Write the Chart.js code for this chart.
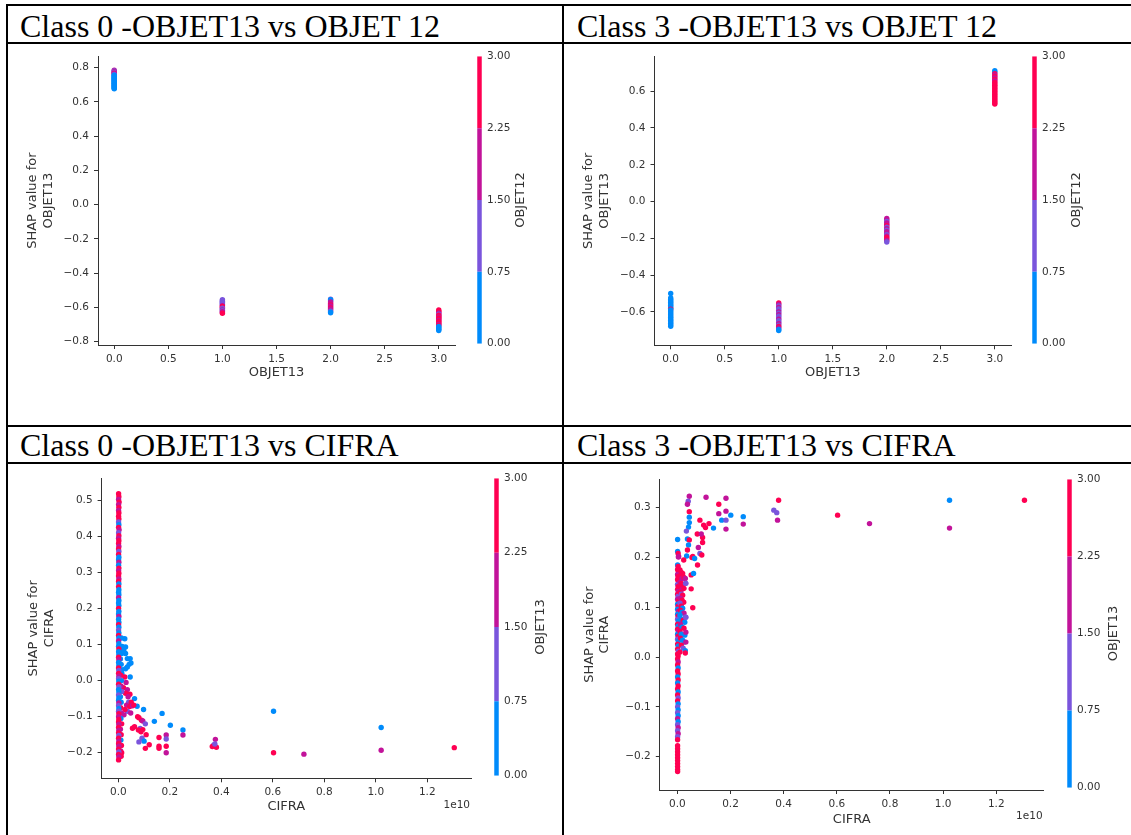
<!DOCTYPE html>
<html>
<head>
<meta charset="utf-8">
<script src="https://cdn.jsdelivr.net/npm/chart.js@4.4.1/dist/chart.umd.min.js"></script>
<style>
  body { margin: 0; background: #fff; }
  #page { position: relative; width: 1131px; height: 835px; overflow: hidden; background: #fff; }
  .line { position: absolute; background: #000; }
  .title { position: absolute; font-family: "Liberation Serif", serif; font-size: 32px; line-height: 1; color: #000; white-space: nowrap; }
  canvas { position: absolute; }
</style>
</head>
<body>
<div id="page">
  <div class="line" style="left:6px;top:4px;width:1125px;height:2px"></div>
  <div class="line" style="left:6px;top:42px;width:1125px;height:2px"></div>
  <div class="line" style="left:6px;top:425px;width:1125px;height:2px"></div>
  <div class="line" style="left:6px;top:462px;width:1125px;height:2px"></div>
  <div class="line" style="left:6px;top:4px;width:2px;height:831px"></div>
  <div class="line" style="left:562px;top:4px;width:2px;height:831px"></div>
  <div class="title" style="left:20px;top:10px">Class 0 -OBJET13 vs OBJET 12</div>
  <div class="title" style="left:577px;top:10px">Class 3 -OBJET13 vs OBJET 12</div>
  <div class="title" style="left:20px;top:429px">Class 0 -OBJET13 vs CIFRA</div>
  <div class="title" style="left:577px;top:429px">Class 3 -OBJET13 vs CIFRA</div>
</div>
<script>
// colour of each OBJET value (0..3), as on the colorbars
const colorbarColors = ['#008bfb', '#7a55dc', '#c2139a', '#ff0052'];
const colorbarTicks = [0, 0.75, 1.5, 2.25, 3];

const objetTicks = [0, 0.5, 1, 1.5, 2, 2.5, 3];
const cifraTicks = [0, 2e9, 4e9, 6e9, 8e9, 1e10, 1.2e10];
const class0ObjetShapTicks = [-0.8, -0.6, -0.4, -0.2, 0, 0.2, 0.4, 0.6, 0.8];
const class3ObjetShapTicks = [-0.6, -0.4, -0.2, 0, 0.2, 0.4, 0.6];
const class0CifraShapTicks = [-0.2, -0.1, 0, 0.1, 0.2, 0.3, 0.4, 0.5];
const class3CifraShapTicks = [-0.2, -0.1, 0, 0.1, 0.2, 0.3];

// [feature value, SHAP value, colouring feature value]
const class0ObjetPoints = [
  [0,0.785,2],[0,0.780,1],[0,0.776,2],[0,0.772,1],[0,0.768,3],[0,0.764,2],[0,0.760,1],[0,0.756,0],
  [0,0.752,0],[0,0.748,0],[0,0.744,0],[0,0.740,0],[0,0.736,0],[0,0.732,0],[0,0.728,0],[0,0.724,0],
  [0,0.720,0],[0,0.716,0],[0,0.712,0],[0,0.708,0],[0,0.704,0],[0,0.700,0],[0,0.696,0],[0,0.692,0],
  [0,0.688,0],[0,0.684,0],[0,0.680,0],[0,0.676,0],
  [1,-0.555,1],[1,-0.560,1],[1,-0.565,1],[1,-0.570,1],[1,-0.575,1],[1,-0.580,1],[1,-0.585,1],[1,-0.590,2],
  [1,-0.595,3],[1,-0.600,3],[1,-0.605,1],[1,-0.610,1],[1,-0.615,2],[1,-0.620,1],[1,-0.625,2],[1,-0.630,2],[1,-0.635,3],
  [2,-0.552,1],[2,-0.556,0],[2,-0.562,0],[2,-0.568,2],[2,-0.574,2],[2,-0.580,2],[2,-0.586,3],[2,-0.592,2],
  [2,-0.598,2],[2,-0.604,3],[2,-0.610,2],[2,-0.616,2],[2,-0.622,1],[2,-0.628,0],[2,-0.632,0],
  [3,-0.615,3],[3,-0.622,3],[3,-0.628,3],[3,-0.634,2],[3,-0.640,1],[3,-0.646,3],[3,-0.652,3],[3,-0.658,2],
  [3,-0.664,3],[3,-0.670,3],[3,-0.676,2],[3,-0.682,3],[3,-0.688,3],[3,-0.694,3],[3,-0.700,2],[3,-0.706,3],
  [3,-0.712,0],[3,-0.718,0],[3,-0.724,0],[3,-0.730,0],[3,-0.735,0]
];

const class3ObjetPoints = [
  [0,-0.500,0],[0,-0.524,0],[0,-0.532,0],[0,-0.540,0],[0,-0.548,0],[0,-0.556,0],[0,-0.564,0],[0,-0.572,0],
  [0,-0.580,0],[0,-0.585,3],[0,-0.590,0],[0,-0.598,0],[0,-0.606,0],[0,-0.614,0],[0,-0.622,0],[0,-0.630,0],
  [0,-0.638,0],[0,-0.646,0],[0,-0.654,0],[0,-0.662,0],[0,-0.670,0],[0,-0.678,0],
  [1,-0.552,3],[1,-0.560,2],[1,-0.568,1],[1,-0.576,2],[1,-0.584,1],[1,-0.592,1],[1,-0.600,2],[1,-0.608,1],
  [1,-0.616,2],[1,-0.624,1],[1,-0.632,1],[1,-0.640,2],[1,-0.648,1],[1,-0.656,1],[1,-0.664,2],[1,-0.672,1],
  [1,-0.680,3],[1,-0.688,2],[1,-0.696,0],[1,-0.702,0],
  [2,-0.092,2],[2,-0.100,2],[2,-0.108,1],[2,-0.116,2],[2,-0.124,2],[2,-0.132,3],[2,-0.140,1],[2,-0.148,2],
  [2,-0.156,1],[2,-0.164,2],[2,-0.172,2],[2,-0.180,1],[2,-0.188,2],[2,-0.196,3],[2,-0.204,3],[2,-0.212,2],[2,-0.220,1],
  [3,0.712,0],[3,0.704,0],[3,0.696,3],[3,0.688,2],[3,0.680,3],[3,0.672,2],[3,0.664,3],[3,0.656,2],
  [3,0.648,3],[3,0.640,3],[3,0.632,3],[3,0.624,3],[3,0.616,3],[3,0.608,3],[3,0.600,3],[3,0.592,3],
  [3,0.584,3],[3,0.576,3],[3,0.568,3],[3,0.560,3],[3,0.552,3],[3,0.544,3],[3,0.536,3],[3,0.530,3]
];

const class0CifraPoints = [
  [2.5e8,0.116,0],[2.8e8,0.093,0],[2.1e8,0.084,0],[2.8e8,0.075,0],[3.5e8,0.061,0],[4.6e8,0.061,0],
  [4.9e8,0.049,0],[3.5e8,0.038,0],[2.8e8,0.033,0],[4.6e8,0.010,0],[1.4e8,0.019,0],[4.2e8,0.045,0],
  [6.3e8,-0.050,0],[7.3e8,-0.071,0],[9.8e8,-0.080,0],
  [2.5e8,0.010,3],[3.0e8,-0.005,2],[2.0e8,-0.020,3],[3.5e8,-0.025,2],[2.8e8,-0.035,3],[4.5e8,-0.038,3],
  [3.8e8,-0.045,2],[4.0e8,-0.060,1],[5.0e8,-0.060,3],[3.2e8,-0.068,2],[4.4e8,-0.072,3],[5.5e8,-0.070,2],
  [6.0e8,-0.068,3],[3.5e8,-0.085,1],[4.8e8,-0.090,2],[2.6e8,-0.080,3],[2.2e8,-0.095,2],[7.5e8,-0.100,3],
  [8.0e8,-0.103,3],[9.0e8,-0.110,3],[9.5e8,-0.112,2],[1.05e9,-0.120,1],[6.3e8,-0.128,3],[5.5e8,-0.132,3],
  [8.5e8,-0.133,1],[7.8e8,-0.137,3],[8.8e8,-0.142,3],[9.5e8,-0.136,3],[1.08e9,-0.150,3],[9.2e8,-0.160,1],
  [1.0e9,-0.168,0],[8.0e8,-0.170,1],[1.05e9,-0.188,3],[1.2e9,-0.178,3],
  [1.40e9,-0.113,0],[1.70e9,-0.091,0],[2.02e9,-0.124,0],[2.51e9,-0.137,0],[2.51e9,-0.151,2],
  [1.58e9,-0.158,3],[1.58e9,-0.182,3],[1.58e9,-0.188,3],[1.86e9,-0.151,2],[1.86e9,-0.162,1],
  [1.86e9,-0.182,3],[1.86e9,-0.200,2],[3.70e9,-0.179,1],[3.77e9,-0.163,2],[3.81e9,-0.185,3],
  [3.65e9,-0.183,3],[3.75e9,-0.176,1],[6.03e9,-0.085,0],[6.03e9,-0.200,3],[7.21e9,-0.204,2],
  [1.021e10,-0.130,0],[1.021e10,-0.193,2],[1.305e10,-0.186,3],
  [1.2e8,0.118,0],[1.5e8,0.095,0],[1.0e8,0.085,0],[1.3e8,0.075,0],[8e7,0.060,0],[1.1e8,0.045,0],
  [1.4e8,0.030,0],[9e7,0.015,3],[1.2e8,0.000,0],[1.0e8,-0.015,2],[1.3e8,-0.030,1],[8e7,-0.045,0],
  [1.1e8,-0.060,0],[9e7,-0.075,3],[1.2e8,-0.090,2],[1.0e8,-0.105,0],[1.3e8,-0.120,3],[8e7,-0.135,2],
  [1.1e8,-0.150,3],[1.0e8,-0.165,0],[1.2e8,-0.180,3],[9e7,-0.195,2],[1.1e8,-0.210,3],[1.3e8,-0.200,3],
  [1e7,0.518,3],[2e7,0.510,3],[1e7,0.502,2],[3e7,0.495,3],[1e7,0.488,2],[2e7,0.480,3],[1e7,0.472,2],
  [2e7,0.465,3],[1e7,0.456,3],[2e7,0.448,3],[1e7,0.440,1],[2e7,0.432,0],[1e7,0.425,3],[3e7,0.418,2],
  [1e7,0.410,1],[2e7,0.402,3],[1e7,0.395,2],[2e7,0.388,3],[1e7,0.380,3],[2e7,0.372,2],[1e7,0.365,3],
  [2e7,0.358,1],[1e7,0.350,3],[2e7,0.342,0],[1e7,0.335,0],[2e7,0.328,2],[1e7,0.320,0],[2e7,0.312,3],
  [1e7,0.305,2],[2e7,0.298,3],[1e7,0.290,3],[2e7,0.282,2],[1e7,0.275,3],[2e7,0.268,0],[1e7,0.260,3],
  [2e7,0.252,0],[1e7,0.245,0],[2e7,0.238,0],[1e7,0.230,2],[2e7,0.222,0],[1e7,0.215,0],[2e7,0.208,0],
  [1e7,0.200,3],[2e7,0.192,0],[1e7,0.185,0],[2e7,0.178,2],[1e7,0.170,0],[2e7,0.162,0],[1e7,0.155,3],
  [2e7,0.148,0],[1e7,0.140,1],[2e7,0.132,0],[1e7,0.125,3],[2e7,0.118,0],[1e7,0.110,2],[2e7,0.102,0],
  [1e7,0.095,0],[2e7,0.088,3],[1e7,0.080,0],[2e7,0.072,0],[1e7,0.065,3],[2e7,0.058,2],[1e7,0.050,0],
  [2e7,0.042,0],[1e7,0.035,3],[2e7,0.028,1],[1e7,0.020,3],[2e7,0.012,2],[1e7,0.005,1],[2e7,-0.002,0],
  [1e7,-0.010,3],[2e7,-0.018,1],[1e7,-0.025,0],[2e7,-0.032,0],[1e7,-0.040,1],[2e7,-0.048,0],[1e7,-0.055,0],
  [2e7,-0.062,2],[1e7,-0.070,1],[2e7,-0.078,0],[1e7,-0.085,1],[2e7,-0.092,3],[1e7,-0.100,2],[2e7,-0.108,3],
  [1e7,-0.115,3],[2e7,-0.122,2],[1e7,-0.130,3],[2e7,-0.138,2],[1e7,-0.145,3],[2e7,-0.152,1],[1e7,-0.160,3],
  [2e7,-0.168,2],[1e7,-0.175,3],[2e7,-0.182,2],[1e7,-0.190,3],[2e7,-0.198,1],[1e7,-0.205,3],[2e7,-0.212,2],
  [1e7,-0.220,3]
];

const class3CifraPoints = [
  [1e7,0.236,0],[1e7,0.212,0],[3e7,0.208,3],[5e7,0.202,2],[1e7,0.185,0],[3e7,0.182,3],[1e7,0.176,3],
  [4e7,0.172,3],[1e7,0.166,2],[3e7,0.162,3],[1e7,0.156,3],[4e7,0.152,3],[1e7,0.146,1],[3e7,0.142,3],
  [1e7,0.136,3],[4e7,0.132,2],[1e7,0.126,3],[3e7,0.122,1],[1e7,0.116,2],[4e7,0.112,3],[1e7,0.106,0],
  [3e7,0.102,3],[1e7,0.096,0],[4e7,0.092,2],[1e7,0.086,0],[3e7,0.082,3],[1e7,0.076,1],[4e7,0.072,0],
  [1e7,0.066,3],[3e7,0.062,0],[1e7,0.056,3],[4e7,0.052,2],[1e7,0.046,0],[3e7,0.042,3],[1e7,0.036,1],
  [4e7,0.032,0],[1e7,0.026,3],[3e7,0.022,0],[1e7,0.016,3],[4e7,0.012,1],[1e7,0.006,3],[3e7,0.002,3],
  [1e7,-0.004,3],[3e7,-0.010,2],[1e7,-0.016,3],[3e7,-0.022,0],[1e7,-0.028,3],[3e7,-0.034,3],[1e7,-0.040,0],
  [3e7,-0.046,3],[1e7,-0.052,0],[3e7,-0.058,3],[1e7,-0.064,3],[3e7,-0.070,0],[1e7,-0.076,3],[3e7,-0.082,1],
  [1e7,-0.088,3],[3e7,-0.094,0],[1e7,-0.100,1],[3e7,-0.106,0],[1e7,-0.112,1],[3e7,-0.118,0],[1e7,-0.124,2],
  [3e7,-0.130,0],[1e7,-0.136,1],[3e7,-0.142,2],[1e7,-0.148,1],[3e7,-0.154,2],[1e7,-0.160,1],[1e7,-0.166,3],
  [1e7,-0.178,3],[1e7,-0.184,3],[1e7,-0.190,3],[1e7,-0.196,3],[1e7,-0.202,3],[1e7,-0.208,3],[1e7,-0.214,3],
  [1e7,-0.220,3],[1e7,-0.226,3],[1e7,-0.230,3],
  [1.0e8,0.175,3],[1.5e8,0.170,3],[2.0e8,0.168,3],[1.2e8,0.160,3],[1.8e8,0.158,2],[2.5e8,0.160,3],
  [3.0e8,0.158,2],[1.0e8,0.150,2],[1.5e8,0.148,3],[2.2e8,0.146,3],[3.2e8,0.148,1],[1.2e8,0.140,3],
  [1.8e8,0.136,2],[2.5e8,0.138,3],[1.0e8,0.130,3],[1.5e8,0.126,1],[2.0e8,0.124,3],[1.2e8,0.118,2],
  [1.8e8,0.114,3],[2.4e8,0.110,3],[1.0e8,0.108,1],[1.5e8,0.102,3],[2.0e8,0.098,0],[1.2e8,0.094,3],
  [1.8e8,0.090,0],[2.5e8,0.088,2],[3.2e8,0.080,1],[1.0e8,0.084,0],[1.5e8,0.076,0],[2.2e8,0.074,3],
  [2.8e8,0.070,0],[1.2e8,0.066,2],[1.8e8,0.060,0],[2.5e8,0.058,3],[1.0e8,0.052,3],[1.5e8,0.046,0],
  [2.8e8,0.044,0],[3.2e8,0.050,2],[1.2e8,0.038,3],[2.0e8,0.034,0],[2.6e8,0.030,0],[3.2e8,0.030,2],
  [1.5e8,0.024,3],[2.2e8,0.018,1],[3.0e8,0.013,0],[3.0e8,0.008,3],[1.0e8,0.010,3],[3.1e8,0.148,1],
  [4.5e8,0.323,2],[4.1e8,0.313,1],[3.8e8,0.307,2],[4.5e8,0.292,3],[4.5e8,0.281,0],[4.5e8,0.270,0],
  [4.2e8,0.261,0],[3.4e8,0.253,1],[3.8e8,0.237,0],[4.5e8,0.235,3],[4.2e8,0.225,0],[3.8e8,0.215,3],
  [3.5e8,0.203,0],[2.4e8,0.195,3],[5.5e8,0.200,3],[5.8e8,0.202,3],[4e7,0.201,2],[5.2e8,0.165,3],
  [5.2e8,0.137,3],[5.8e8,0.099,3],[3.1e8,0.080,1],[6.1e8,0.168,0],[6.5e8,0.198,0],
  [7.5e8,0.247,3],[7.6e8,0.185,3],[7.9e8,0.220,2],[8.5e8,0.208,1],[9.2e8,0.205,3],[9.5e8,0.240,3],
  [9.5e8,0.230,3],[9.0e8,0.247,2],[8.5e8,0.275,3],[9.9e8,0.265,3],[1.06e9,0.260,3],[1.19e9,0.268,3],
  [1.08e9,0.321,2],[1.36e9,0.259,0],[1.56e9,0.307,3],[1.56e9,0.288,2],[1.67e9,0.275,0],[1.83e9,0.293,2],
  [1.83e9,0.319,2],[1.83e9,0.275,1],[1.83e9,0.257,2],[2.01e9,0.285,0],[2.48e9,0.282,0],[2.48e9,0.267,2],
  [3.63e9,0.295,1],[3.74e9,0.290,1],[3.77e9,0.275,2],[3.81e9,0.315,3],[6.03e9,0.285,3],[7.23e9,0.268,2],
  [1.024e10,0.315,0],[1.024e10,0.259,2],[1.306e10,0.315,3]
];

const FONT = 'DejaVu Sans';
const AXIS_COLOR = '#333333';
const page = document.getElementById('page');

function signed(v, d) {
  const s = Math.abs(v).toFixed(d);
  return v < -1e-9 ? '\u2212' + s : s;
}

function makeCanvas(left, top, w, h) {
  const c = document.createElement('canvas');
  c.width = w;
  c.height = h;
  c.style.left = left + 'px';
  c.style.top = top + 'px';
  page.appendChild(c);
  return c;
}

function offsetTextPlugin(text) {
  return {
    id: 'offsetText',
    afterDraw(chart) {
      if (!text) return;
      const {ctx, chartArea} = chart;
      ctx.save();
      ctx.font = '10.5px "DejaVu Sans"';
      ctx.fillStyle = AXIS_COLOR;
      ctx.textAlign = 'right';
      ctx.textBaseline = 'middle';
      ctx.fillText(text, chartArea.right - 1, chartArea.bottom + 26.5);
      ctx.restore();
    }
  };
}

function colorbarLabelPlugin(text, dx) {
  return {
    id: 'colorbarLabel',
    afterDraw(chart) {
      const {ctx, chartArea} = chart;
      ctx.save();
      ctx.translate(chartArea.left + dx, (chartArea.top + chartArea.bottom) / 2);
      ctx.rotate(-Math.PI / 2);
      ctx.font = '13px "DejaVu Sans"';
      ctx.fillStyle = AXIS_COLOR;
      ctx.textAlign = 'center';
      ctx.textBaseline = 'middle';
      ctx.fillText(text, 0, 0);
      ctx.restore();
    }
  };
}

function drawPanel(p) {
  const a = p.area;
  const left = p.canvas.left, top = p.canvas.top;
  const width = Math.ceil(a.R - left + 10);
  const height = Math.ceil(a.B - top + 40);
  const yAxisW = a.L - left;
  const xAxisH = height - (a.B - top);
  const canvas = makeCanvas(left, top, width, height);

  new Chart(canvas, {
    type: 'scatter',
    data: {
      datasets: [{
        data: p.points.map(pt => ({x: pt[0], y: pt[1]})),
        pointBackgroundColor: p.points.map(pt => colorbarColors[pt[2]]),
        pointBorderWidth: 0,
        pointRadius: 2.7
      }]
    },
    options: {
      responsive: false,
      animation: false,
      devicePixelRatio: 1,
      layout: { padding: { left: 0, top: a.T - top, right: width - (a.R - left), bottom: 0 } },
      plugins: { legend: { display: false }, tooltip: { enabled: false } },
      scales: {
        x: {
          type: 'linear',
          min: p.xRange[0],
          max: p.xRange[1],
          afterBuildTicks: s => { s.ticks = p.xTicks.map(v => ({value: v})); },
          afterFit: s => { s.height = xAxisH; },
          grid: { drawOnChartArea: false, drawTicks: true, tickLength: 4, color: AXIS_COLOR },
          border: { color: AXIS_COLOR, width: 1 },
          ticks: { font: { family: FONT, size: 10.5 }, color: AXIS_COLOR, padding: 3.5, maxRotation: 0, autoSkip: false, callback: v => p.xFmt(v) },
          title: { display: true, text: p.xName, font: { family: FONT, size: 13 }, color: AXIS_COLOR,
                   padding: { top: 0, bottom: (top + height) - p.xTitleY - 7.8 } }
        },
        y: {
          type: 'linear',
          min: p.yRange[0],
          max: p.yRange[1],
          afterBuildTicks: s => { s.ticks = p.yTicks.map(v => ({value: v})); },
          afterFit: s => { s.width = yAxisW; },
          grid: { drawOnChartArea: false, drawTicks: true, tickLength: 4, color: AXIS_COLOR },
          border: { color: AXIS_COLOR, width: 1 },
          ticks: { font: { family: FONT, size: 10.5 }, color: AXIS_COLOR, padding: 5, autoSkip: false, callback: v => signed(v, 1) },
          title: { display: true, text: ['SHAP value for', p.yName], font: { family: FONT, size: 13 }, color: AXIS_COLOR,
                   padding: { top: p.yTitleX - left - 7.8, bottom: 0 } }
        }
      }
    },
    plugins: [offsetTextPlugin(p.offset)]
  });

  // colorbar
  const cb = p.cb;
  const cbCanvas = makeCanvas(cb.left, cb.T - 10, 60, Math.ceil(cb.B - cb.T + 20));
  new Chart(cbCanvas, {
    type: 'bar',
    data: {
      labels: [''],
      datasets: colorbarColors.map((c, i) => ({
        data: [colorbarTicks[i + 1] - colorbarTicks[i]],
        backgroundColor: c,
        borderWidth: 0,
        barPercentage: 0.9,
        categoryPercentage: 1
      }))
    },
    options: {
      responsive: false,
      animation: false,
      devicePixelRatio: 1,
      layout: { padding: { left: 0, top: 10, right: 0, bottom: 10 } },
      plugins: { legend: { display: false }, tooltip: { enabled: false } },
      scales: {
        x: { display: false, stacked: true },
        y: {
          stacked: true,
          position: 'right',
          min: 0,
          max: 3,
          afterBuildTicks: s => { s.ticks = colorbarTicks.map(v => ({value: v})); },
          afterFit: s => { s.width = 55; },
          grid: { display: false, drawTicks: false },
          border: { display: false },
          ticks: { font: { family: FONT, size: 10.5 }, color: AXIS_COLOR, padding: 5, callback: v => v.toFixed(2) }
        }
      }
    },
    plugins: [colorbarLabelPlugin(p.cbName, cb.labelX - cb.left)]
  });
}

const panels = [
  { points: class0ObjetPoints, xTicks: objetTicks, yTicks: class0ObjetShapTicks, xFmt: v => v.toFixed(1),
    xName: 'OBJET13', yName: 'OBJET13', cbName: 'OBJET12', offset: '',
    canvas: { left: 8, top: 45 }, area: { L: 98, R: 455, T: 55, B: 345 }, yTitleX: 33, xTitleY: 373,
    xRange: [-0.15, 3.15], yRange: [-0.82, 0.866],
    cb: { left: 477, T: 55, B: 345, labelX: 521 } },
  { points: class3ObjetPoints, xTicks: objetTicks, yTicks: class3ObjetShapTicks, xFmt: v => v.toFixed(1),
    xName: 'OBJET13', yName: 'OBJET13', cbName: 'OBJET12', offset: '',
    canvas: { left: 566, top: 45 }, area: { L: 654.5, R: 1011, T: 55, B: 345.3 }, yTitleX: 589, xTitleY: 373,
    xRange: [-0.15, 3.15], yRange: [-0.782, 0.79],
    cb: { left: 1032, T: 55, B: 345, labelX: 1076.5 } },
  { points: class0CifraPoints, xTicks: cifraTicks, yTicks: class0CifraShapTicks, xFmt: v => (v / 1e10).toFixed(1),
    xName: 'CIFRA', yName: 'CIFRA', cbName: 'OBJET13', offset: '1e10',
    canvas: { left: 8, top: 467 }, area: { L: 101.6, R: 471, T: 477.3, B: 778.3 }, yTitleX: 34, xTitleY: 806.7,
    xRange: [-6.5e8, 1.37e10], yRange: [-0.271, 0.561],
    cb: { left: 493.7, T: 477, B: 777, labelX: 540.5 } },
  { points: class3CifraPoints, xTicks: cifraTicks, yTicks: class3CifraShapTicks, xFmt: v => (v / 1e10).toFixed(1),
    xName: 'CIFRA', yName: 'CIFRA', cbName: 'OBJET13', offset: '1e10',
    canvas: { left: 566, top: 468 }, area: { L: 659.8, R: 1043.6, T: 478.3, B: 790 }, yTitleX: 589.5, xTitleY: 820,
    xRange: [-6.6e8, 1.378e10], yRange: [-0.267, 0.357],
    cb: { left: 1066.5, T: 478, B: 789, labelX: 1113.5 } }
];

panels.forEach(drawPanel);
</script>
</body>
</html>
